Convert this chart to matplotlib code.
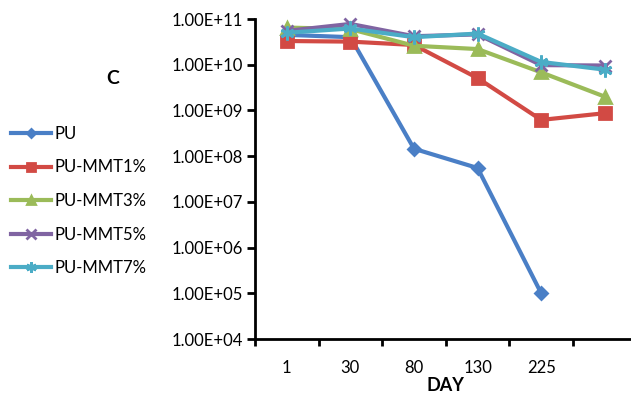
import matplotlib.pyplot as plt
import numpy as np
from matplotlib.ticker import FixedLocator, FuncFormatter, NullLocator

plt.rcParams['font.family'] = ['Lato', 'DejaVu Sans']

days = ["1", "30", "80", "130", "225", ""]
pu = [4.5e10, 4.0e10, 1.45e8, 5.5e7, 1.0e5, np.nan]
pu_mmt1 = [3.3e10, 3.2e10, 2.7e10, 5.1e9, 6.2e8, 8.7e8]
pu_mmt3 = [6.5e10, 6.0e10, 2.6e10, 2.2e10, 6.8e9, 2.0e9]
pu_mmt5 = [5.5e10, 7.8e10, 4.2e10, 4.6e10, 9.8e9, 9.6e9]
pu_mmt7 = [5.0e10, 6.2e10, 4.0e10, 4.8e10, 1.15e10, 7.8e9]

names = ["PU", "PU-MMT1%", "PU-MMT3%", "PU-MMT5%", "PU-MMT7%"]
colors = ["#4a7fc6", "#d24a44", "#9bbb59", "#8064a2", "#4bacc6"]
markers = ["D", "s", "^", "x", (6, 2, 0)]
msizes = [6, 8.5, 8, 9, 10]

fig = plt.figure(figsize=(6.31, 3.96), dpi=100)
ax = fig.add_axes([255 / 631, 57 / 396, 381.6 / 631, 320 / 396])

x = np.arange(len(days))
series = [pu, pu_mmt1, pu_mmt3, pu_mmt5, pu_mmt7]
handles = []
for vals, name, c, m, ms in zip(series, names, colors, markers, msizes):
    h, = ax.plot(x, vals, color=c, lw=3, marker=m, ms=ms, mew=2,
                 mfc=c, mec=c, label=name, clip_on=False)
    handles.append(h)

ax.set_yscale("log")
ax.set_ylim(1e4, 1e11)
ax.set_xlim(-0.5, 5.5)
ax.yaxis.set_major_locator(FixedLocator([10.0 ** k for k in range(4, 12)]))
ax.yaxis.set_minor_locator(NullLocator())
ax.yaxis.set_major_formatter(FuncFormatter(lambda v, p: f"{v:.2E}"))

# category boundaries get tick marks, labels sit in between
ax.xaxis.set_major_locator(FixedLocator(np.arange(-0.5, 5.6, 1)))
ax.xaxis.set_major_formatter(FuncFormatter(lambda v, p: ""))
ax.xaxis.set_minor_locator(FixedLocator(x))
ax.set_xticklabels(days, minor=True)
ax.tick_params(axis="x", which="major", length=5, width=2, direction="out")
ax.tick_params(axis="x", which="minor", length=0, pad=15, labelsize=12)
ax.tick_params(axis="y", length=6, width=2, direction="out", pad=3, labelsize=12)

for s in ["top", "right"]:
    ax.spines[s].set_visible(False)
for s in ["left", "bottom"]:
    ax.spines[s].set_linewidth(2)

ax.set_xlabel("DAY", fontsize=13, fontweight="bold", labelpad=0.5)

fig.text(113 / 631, 1 - 78 / 396, "C", fontsize=14, fontweight="bold",
         ha="center", va="center")

fig.legend(handles=handles, loc="upper left", bbox_to_anchor=(-4 / 631, 1 - 111 / 396),
           frameon=False, fontsize=12, handlelength=2.4, handletextpad=0.2,
           labelspacing=1.05, markerscale=0.75)

fig.savefig("out.png", dpi=100)
